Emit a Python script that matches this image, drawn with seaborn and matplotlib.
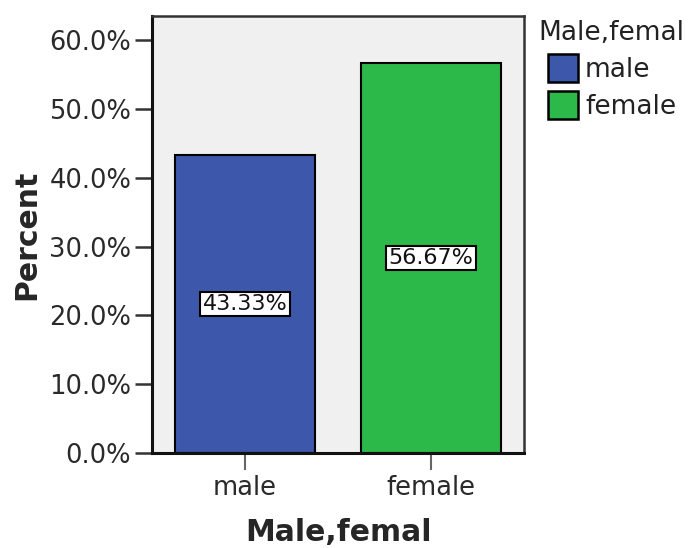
import matplotlib
matplotlib.use("Agg")
import matplotlib.pyplot as plt
import pandas as pd
import seaborn as sns
from matplotlib.patches import Patch
from matplotlib.ticker import FuncFormatter

# ── Dados ─────────────────────────────────────────────────────────────────────
categorias = ["male", "female"]
percentuais = [43.33, 56.67]
cores = ["#3D57AB", "#2DB84A"]
y_ticks = [0, 10, 20, 30, 40, 50, 60]

df = pd.DataFrame({"sexo": categorias, "pct": percentuais})

sns.set_style("white")
plt.rcParams["font.family"] = ["DejaVu Sans"]

fig = plt.figure(figsize=(6.9, 5.48), dpi=100)
ax = fig.add_axes([152 / 690, 1 - 453 / 548, 372 / 690, 437 / 548])
ax.set_facecolor("#F0F0F0")

sns.barplot(data=df, x="sexo", y="pct", hue="sexo", palette=cores,
            saturation=1, width=0.75, edgecolor="black", linewidth=1.5,
            legend=False, ax=ax)

# rótulos dentro das barras
for i, v in enumerate(percentuais):
    ax.text(i, v / 2, f"{v:.2f}%", ha="center", va="center", fontsize=16,
            color="#111111",
            bbox=dict(boxstyle="square,pad=0.1", fc="white", ec="black", lw=1.5))

ax.set_xlim(-0.5, 1.5)
ax.set_ylim(0, 63.5)
ax.set_yticks(y_ticks)
ax.yaxis.set_major_formatter(FuncFormatter(lambda v, _: f"{v:.1f}%"))
ax.tick_params(axis="y", length=12, width=1.8, color="#333333", labelsize=18.5,
               labelcolor="#2A2A2A", pad=3, left=True)
ax.tick_params(axis="x", length=12, width=1.5, color="#666666", labelsize=18.5,
               labelcolor="#2A2A2A", pad=4, bottom=True)

ax.set_ylabel("Percent", fontsize=21.5, fontweight="bold", labelpad=5.5)
ax.set_xlabel("Male,femal", fontsize=21.5, fontweight="bold", labelpad=12)

for lado in ["left", "bottom"]:
    ax.spines[lado].set_linewidth(2.2)
    ax.spines[lado].set_color("#111111")
for lado in ["top", "right"]:
    ax.spines[lado].set_linewidth(1.8)
    ax.spines[lado].set_color("#333333")

# legenda
fig.text(538 / 690, 1 - 40 / 548, "Male,femal", fontsize=19, color="#222222",
         ha="left", va="baseline")
handles = [Patch(facecolor=c, edgecolor="black", linewidth=1.8) for c in cores]
fig.legend(handles, categorias, loc="upper left",
           bbox_to_anchor=(548 / 690, 1 - 54 / 548), frameon=False,
           fontsize=19, handlelength=1.15, handleheight=1.28,
           handletextpad=0.25, labelspacing=0.3, borderpad=0,
           borderaxespad=0, labelcolor="#222222")

fig.savefig("out.png", dpi=100)
